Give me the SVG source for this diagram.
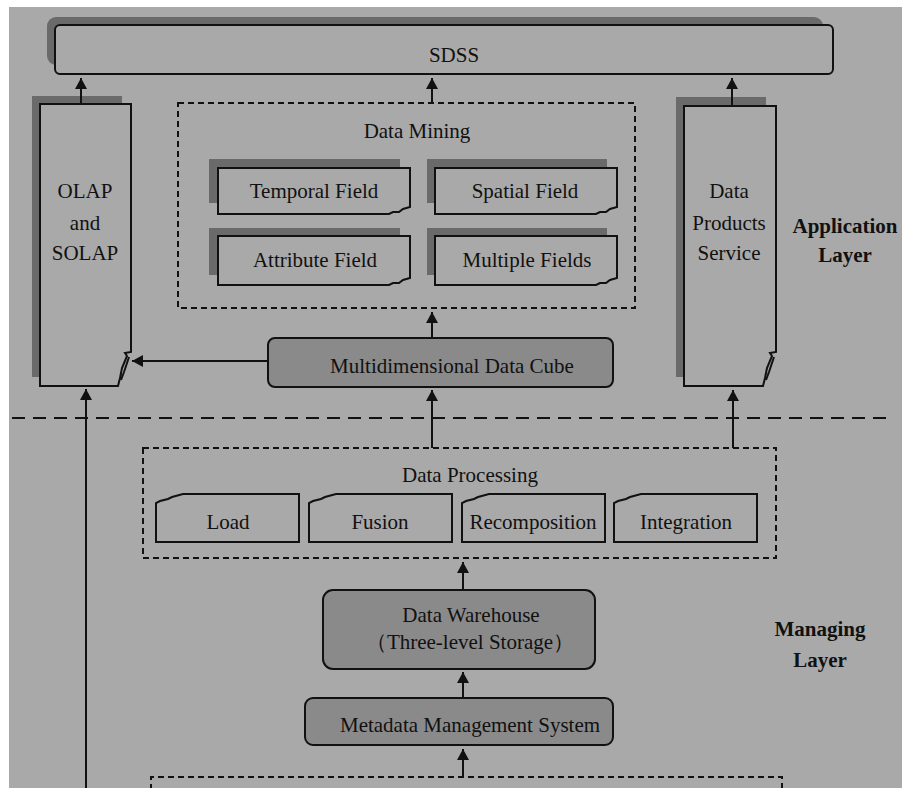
<svg xmlns="http://www.w3.org/2000/svg" width="902" height="788" viewBox="0 0 902 788">
<defs>
<style>
.t{font-family:"Liberation Serif","Times New Roman",serif;font-size:21px;fill:#111;text-anchor:middle}
.b{font-weight:bold}
.box{fill:#a9a9a9;stroke:#111;stroke-width:2}
.dark{fill:#8a8a8a;stroke:#111;stroke-width:2}
.sh{fill:#6a6a6a}
.dash{fill:none;stroke:#111;stroke-width:2;stroke-dasharray:6 4}
.ln{fill:none;stroke:#111;stroke-width:2}
</style>
<marker id="ah" markerUnits="userSpaceOnUse" markerWidth="12" markerHeight="12" refX="11" refY="6" orient="auto">
<path d="M0,0 L11,6 L0,12 z" fill="#111"/>
</marker>
</defs>
<rect x="0" y="0" width="902" height="788" fill="#ffffff"/>
<rect x="9" y="7" width="893" height="781" fill="#a9a9a9"/>

<g id="sdss">
<rect class="sh" x="47" y="17" width="776" height="48" rx="9"/>
<rect class="box" x="55" y="25" width="778" height="49" rx="5"/>
<text class="t" x="454" y="62">SDSS</text>
</g>

<g id="olap">
<rect class="sh" x="32" y="96" width="90" height="281"/>
<path class="box" d="M40,104 L131,104 L131,352 L125,353 L127,356 L122,368 L120,378 L118,386 L40,386 Z"/>
<path class="ln" d="M129,357 L124,372 L121,380" stroke-width="1.5"/>
<text class="t" x="85" y="198">OLAP</text>
<text class="t" x="85" y="230">and</text>
<text class="t" x="85" y="260">SOLAP</text>
</g>

<g id="data-mining">
<rect class="dash" x="178" y="103" width="457" height="205"/>
<text class="t" x="417" y="138">Data Mining</text>
</g>

<g id="temporal-field">
<rect class="sh" x="209" y="159" width="191" height="44"/>
<path class="box" d="M218,168 L410,168 L410,207 L403,209 L399,212 L393,212 L389,214 L218,214 Z"/>
<text class="t" x="314" y="198">Temporal Field</text>
</g>

<g id="spatial-field">
<rect class="sh" x="427" y="159" width="180" height="44"/>
<path class="box" d="M435,168 L617,168 L617,207 L610,209 L606,212 L600,212 L596,214 L435,214 Z"/>
<text class="t" x="525" y="198">Spatial Field</text>
</g>

<g id="attribute-field">
<rect class="sh" x="209" y="228" width="191" height="47"/>
<path class="box" d="M218,236 L410,236 L410,278 L403,280 L399,283 L393,283 L389,285 L218,285 Z"/>
<text class="t" x="315" y="267">Attribute Field</text>
</g>

<g id="multiple-fields">
<rect class="sh" x="427" y="228" width="180" height="47"/>
<path class="box" d="M435,236 L617,236 L617,278 L610,280 L606,283 L600,283 L596,285 L435,285 Z"/>
<text class="t" x="527" y="267">Multiple Fields</text>
</g>

<g id="dps">
<rect class="sh" x="676" y="97" width="90" height="280"/>
<path class="box" d="M684,106 L776,106 L776,352 L770,353 L772,356 L767,368 L765,378 L763,386 L684,386 Z"/>
<path class="ln" d="M774,357 L769,372 L766,380" stroke-width="1.5"/>
<text class="t" x="729" y="198">Data</text>
<text class="t" x="729" y="230">Products</text>
<text class="t" x="729" y="260">Service</text>
</g>

<g id="app-layer">
<text class="t b" x="845" y="233">Application</text>
<text class="t b" x="845" y="262">Layer</text>
</g>

<g id="cube">
<rect class="dark" x="268" y="338" width="345" height="49" rx="7"/>
<text class="t" x="452" y="373">Multidimensional Data Cube</text>
</g>

<g id="layer-divider">
<line x1="12" y1="418" x2="886" y2="418" stroke="#111" stroke-width="2" stroke-dasharray="13 8"/>
</g>

<g id="data-processing">
<rect class="dash" x="143" y="448" width="633" height="110"/>
<text class="t" x="470" y="482">Data Processing</text>
</g>

<g id="load">
<path class="box" d="M156,542 L156,503 L160,501 L168,499 L172,497 L183,494 L299,494 L299,542 Z"/>
<text class="t" x="228" y="529">Load</text>
</g>
<g id="fusion">
<path class="box" d="M309,542 L309,503 L313,501 L321,499 L325,497 L336,494 L452,494 L452,542 Z"/>
<text class="t" x="380" y="529">Fusion</text>
</g>
<g id="recomposition">
<path class="box" d="M462,542 L462,503 L466,501 L474,499 L478,497 L489,494 L605,494 L605,542 Z"/>
<text class="t" x="533" y="529">Recomposition</text>
</g>
<g id="integration">
<path class="box" d="M614,542 L614,503 L618,501 L626,499 L630,497 L641,494 L757,494 L757,542 Z"/>
<text class="t" x="686" y="529">Integration</text>
</g>

<g id="data-warehouse">
<rect class="dark" x="323" y="590" width="272" height="79" rx="10"/>
<text class="t" x="471" y="622">Data Warehouse</text>
<text class="t" x="470" y="649">（Three-level Storage）</text>
</g>

<g id="managing-layer">
<text class="t b" x="820" y="636">Managing</text>
<text class="t b" x="820" y="667">Layer</text>
</g>

<g id="metadata">
<rect class="dark" x="305" y="698" width="308" height="47" rx="8"/>
<text class="t" x="470" y="732">Metadata Management System</text>
</g>

<g id="bottom-box">
<path class="dash" d="M151,790 L151,777 L782,777 L782,790"/>
</g>

<g id="connectors" class="ln" marker-end="url(#ah)">
<line x1="81" y1="104" x2="81" y2="78"/>
<line x1="432" y1="103" x2="432" y2="78"/>
<line x1="732" y1="106" x2="732" y2="78"/>
<line x1="432" y1="338" x2="432" y2="312"/>
<line x1="268" y1="361" x2="132" y2="361"/>
<line x1="432" y1="448" x2="432" y2="390"/>
<line x1="733" y1="448" x2="733" y2="390"/>
<line x1="86" y1="790" x2="86" y2="389"/>
<line x1="463" y1="590" x2="463" y2="562"/>
<line x1="463" y1="698" x2="463" y2="672"/>
<line x1="463" y1="777" x2="463" y2="749"/>
</g>
</svg>
